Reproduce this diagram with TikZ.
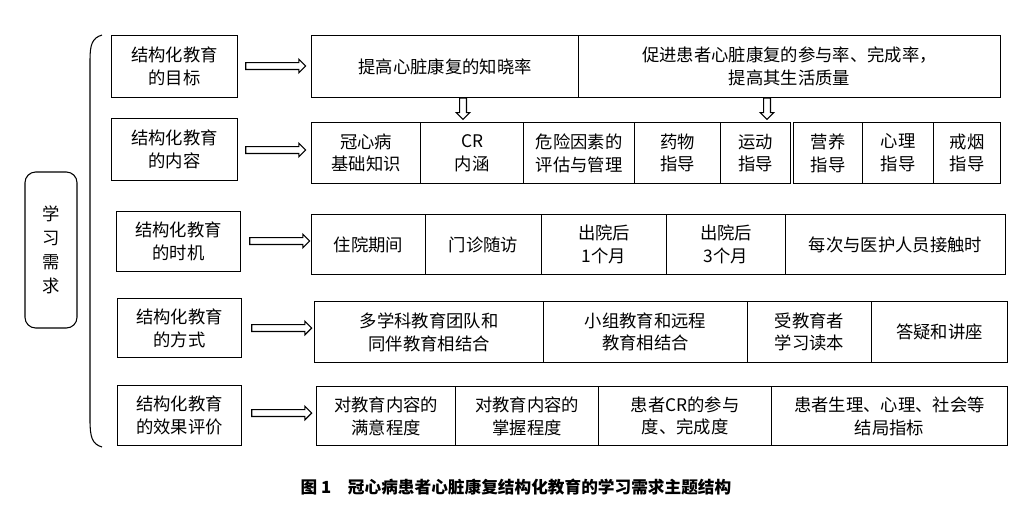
\documentclass[tikz,border=0pt]{standalone}
\usepackage{fontspec}
\setmainfont{Noto Sans CJK SC}
\usetikzlibrary{shapes.arrows}
\begin{document}
\begin{tikzpicture}[x=0.75pt,y=-0.75pt,
 bx/.style={draw,thick,inner sep=0pt,align=center,font=\fontsize{13}{17}\selectfont},
 ha/.style={single arrow,draw,thick,minimum height=45pt,single arrow head extend=2.5pt,inner sep=2.2pt,single arrow tip angle=90},
 da/.style={single arrow,draw,thick,minimum height=16pt,single arrow head extend=2.5pt,inner sep=2.2pt,shape border rotate=270}]
\useasboundingbox (0,0) rectangle (1031,508);
\newcommand\B[6]{\node[bx,minimum width=#4*0.75pt-#2*0.75pt,minimum height=#5*0.75pt-#3*0.75pt,anchor=north west] (#1) at (#2,#3) {#6};}
\node[draw,thick,rounded corners=8pt,minimum width=39pt,minimum height=117pt,align=center,font=\fontsize{13}{18}\selectfont] (need) at (51,250) {学\\习\\需\\求};
\draw[thick] (102,35) .. controls (92,38) and (90,45) .. (90,60) -- (90,420) .. controls (90,437) and (92,444) .. (102,447);
% row1
\B{l1}{111}{35}{237}{97}{结构化教育\\的目标}
\B{a1}{311}{35}{578}{97}{提高心脏康复的知晓率}
\B{b1}{578}{35}{1000}{97}{促进患者心脏康复的参与率、完成率，\\提高其生活质量}
\node[ha] (h1) at (274,66) {};
\node[da] (d1) at (463,107) {};
\node[da] (d2) at (767,107) {};
% row2
\B{l2}{111}{118}{237}{180}{结构化教育\\的内容}
\node[ha] (h2) at (274,150) {};
\B{c1}{311}{122}{420}{183}{冠心病\\基础知识}
\B{c2}{420}{122}{523}{183}{CR\\内涵}
\B{c3}{523}{122}{634}{183}{危险因素的\\评估与管理}
\B{c4}{634}{122}{720}{183}{药物\\指导}
\B{c5}{720}{122}{790}{183}{运动\\指导}
\B{c6}{793}{122}{862}{183}{营养\\指导}
\B{c7}{862}{122}{933}{183}{心理\\指导}
\B{c8}{933}{122}{1000}{183}{戒烟\\指导}
% row3
\B{l3}{116}{211}{240}{271}{结构化教育\\的时机}
\node[ha] (h3) at (278,241) {};
\B{e1}{311}{214}{425}{274}{住院期间}
\B{e2}{425}{214}{541}{274}{门诊随访}
\B{e3}{541}{214}{666}{274}{出院后\\1个月}
\B{e4}{666}{214}{785}{274}{出院后\\3个月}
\B{e5}{785}{214}{1005}{274}{每次与医护人员接触时}
% row4
\B{l4}{117}{298}{241}{357}{结构化教育\\的方式}
\node[ha] (h4) at (280,328) {};
\B{f1}{314}{301}{543}{362}{多学科教育团队和\\同伴教育相结合}
\B{f2}{543}{301}{747}{362}{小组教育和远程\\教育相结合}
\B{f3}{747}{301}{871}{362}{受教育者\\学习读本}
\B{f4}{871}{301}{1007}{362}{答疑和讲座}
% row5
\B{l5}{117}{385}{241}{445}{结构化教育\\的效果评价}
\node[ha] (h5) at (280,413) {};
\B{g1}{316}{386}{455}{445}{对教育内容的\\满意程度}
\B{g2}{455}{386}{598}{445}{对教育内容的\\掌握程度}
\B{g3}{598}{386}{771}{445}{患者CR的参与\\度、完成度}
\B{g4}{771}{386}{1007}{445}{患者生理、心理、社会等\\结局指标}
\node[font=\fontsize{12.5}{14}\selectfont\bfseries] (cap) at (516,487) {图 1\quad 冠心病患者心脏康复结构化教育的学习需求主题结构};
\end{tikzpicture}
\end{document}
